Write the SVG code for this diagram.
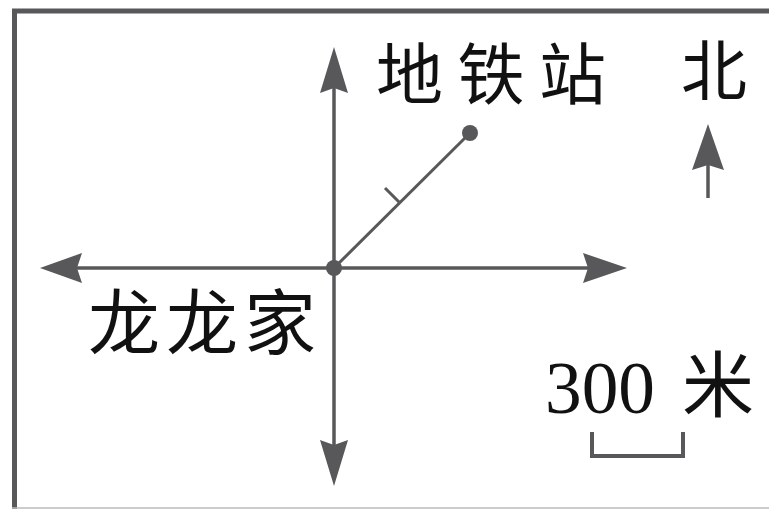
<svg xmlns="http://www.w3.org/2000/svg" width="769" height="509" viewBox="0 0 769 509">
  <style>
    .ax { stroke: #58585a; stroke-width: 3.5; fill: none; }
    .head { fill: #58585a; }
    .cjk { font-family: "Noto Sans CJK SC", "Noto Sans", sans-serif; fill: #111; }
    .num { font-family: "Liberation Serif", serif; fill: #111; }
  </style>
  <rect width="769" height="509" fill="#fff"/>
  <g id="frame">
    <path d="M14.5 520 V11 H780" fill="none" stroke="#58585a" stroke-width="5"/>
    <line x1="12" y1="508" x2="769" y2="508" stroke="#bbb" stroke-width="1.5"/>
  </g>
  <g id="connectors">
    <line class="ax" x1="60" y1="268" x2="610" y2="268"/>
    <line class="ax" x1="334" y1="65" x2="334" y2="470"/>
    <line x1="334" y1="268" x2="470" y2="133" stroke="#58585a" stroke-width="3"/>
    <line x1="399" y1="202" x2="385" y2="188" stroke="#58585a" stroke-width="3"/>
    <path class="head" d="M40 268 L82 253 L77 268 L82 283 Z"/>
    <path class="head" d="M627 268 L583 253 L588 268 L583 283 Z"/>
    <path class="head" d="M334 47 L320 93 L334 88 L348 93 Z"/>
    <path class="head" d="M334 486 L320 440 L334 445 L348 440 Z"/>
    <line class="ax" x1="708" y1="150" x2="708" y2="198"/>
    <path class="head" d="M708 124 L692 170 L708 165 L724 170 Z"/>
    <path d="M592 432 V456 H683 V432" fill="none" stroke="#58585a" stroke-width="4"/>
  </g>
  <g id="origin">
    <circle cx="334" cy="268" r="8" fill="#58585a"/>
    <text class="cjk" x="88" y="349" font-size="72" textLength="228" lengthAdjust="spacing">龙龙家</text>
  </g>
  <g id="station">
    <circle cx="470" cy="133" r="8" fill="#58585a"/>
    <text class="cjk" x="376" y="99" font-size="67" textLength="230" lengthAdjust="spacing">地铁站</text>
  </g>
  <g id="north">
    <text class="cjk" x="681" y="95" font-size="66">北</text>
  </g>
  <g id="scale">
    <text class="num" x="545" y="413" font-size="75" textLength="110" lengthAdjust="spacingAndGlyphs">300</text>
    <text class="cjk" x="682" y="411" font-size="72">米</text>
  </g>
</svg>
